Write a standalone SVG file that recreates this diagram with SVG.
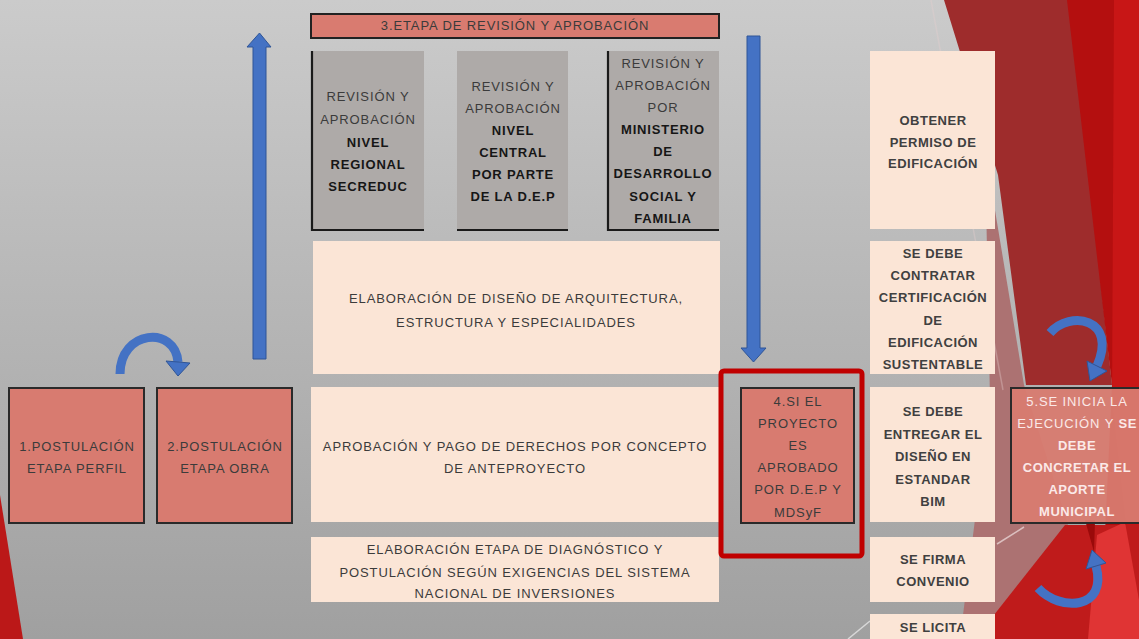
<svg xmlns="http://www.w3.org/2000/svg" width="1139" height="639" viewBox="0 0 1139 639">
<style>
text{font-family:"Liberation Sans",Arial,sans-serif;font-size:13px;text-anchor:middle;letter-spacing:0.9px;fill:#3b3b3b}
.b{font-weight:bold;fill:#161616;letter-spacing:0.8px}
.rb{font-weight:bold;fill:#404040;letter-spacing:0.5px}
.w{fill:#fbe9e8}
.wb{fill:#fbe9e8;font-weight:bold;letter-spacing:0.5px}
.salmon{fill:#d87b70;stroke:#2a2a2a;stroke-width:2}
.peach{fill:#fbe5d6}
.gray{fill:#aeaaa8}
.edge{stroke:#1a1a1a;stroke-width:2.2;fill:none}
.blue{fill:#4472c4;stroke:#2f5597;stroke-width:1}
.bluel{fill:none;stroke:#4472c4;stroke-width:9}
</style>
<defs>
<linearGradient id="bg" x1="0" y1="0" x2="0" y2="1">
<stop offset="0" stop-color="#cbcbcb"/>
<stop offset="1" stop-color="#a0a0a0"/>
</linearGradient>
</defs>

<!-- background -->
<rect x="0" y="0" width="1139" height="639" fill="url(#bg)"/>
<polygon points="985,150 1024,385 1068,525 980,639 960,639 990,400" fill="#ac7272"/>
<polygon points="944,0 1070,0 1112,385 1026,385 998,175" fill="#9e2c2c"/>
<polygon points="1067,0 1139,0 1139,639 1100,639 1112,385" fill="#b40f0f"/>
<polygon points="1114,0 1139,0 1139,639 1112,400" fill="#c81616"/>
<polygon points="1065,525 1139,525 1139,639 975,639" fill="#bf1b1b"/>
<polygon points="1097,535 1125,522 1139,600 1139,639 1088,639" fill="#e03434"/>
<polygon points="1085,520 1095,520 1094,552" fill="#9a0a0a"/>
<line x1="931" y1="0" x2="1003" y2="390" stroke="#e8d0d0" stroke-width="1.5" opacity="0.35"/>
<line x1="997" y1="544" x2="1024" y2="527" stroke="#f0e0e0" stroke-width="1.5" opacity="0.7"/>
<line x1="848" y1="639" x2="870" y2="621" stroke="#f0f0f0" stroke-width="1.5" opacity="0.7"/>
<polygon points="0,495 23,639 0,639" fill="#bb1818"/>

<g id="connectors">
<polygon id="arrow-up" class="blue" points="253,359 266,359 266,47 271,47 259.5,33 247,47 253,47"/>
<polygon id="arrow-down" class="blue" points="747,36 760,36 760,348 766,348 753.5,362 741,348 747,348"/>
<g id="arrow-curve-1">
<path class="bluel" d="M120,374 C120,330 175,325 178,362"/>
<polygon class="blue" points="166,361 190,363 178,376"/>
</g>
<g id="arrow-curve-2">
<path class="bluel" d="M1050,333 C1070,310 1118,318 1097,366"/>
<polygon class="blue" points="1107,371 1087,361 1090,381"/>
</g>
<g id="arrow-curve-3">
<path class="bluel" d="M1038,588 C1060,612 1108,610 1096,566"/>
<polygon class="blue" points="1106,563 1086,569 1092,550"/>
</g>
</g>

<g id="title">
<rect x="311" y="14" width="408" height="24" fill="#d97b70" stroke="#222" stroke-width="2"/>
<text x="515" y="30" fill="#333">3.ETAPA DE REVISIÓN Y APROBACIÓN</text>
</g>

<g id="rev-regional">
<rect class="gray" x="311" y="51" width="113" height="179"/>
<polyline class="edge" points="312,51 312,230 424,230"/>
<text x="368" y="101">REVISIÓN Y</text>
<text x="368" y="124">APROBACIÓN</text>
<text class="b" x="368" y="147">NIVEL</text>
<text class="b" x="368" y="169">REGIONAL</text>
<text class="b" x="368" y="191">SECREDUC</text>
</g>

<g id="rev-central">
<rect class="gray" x="457" y="51" width="111" height="179"/>
<polyline class="edge" points="457,230 568,230"/>
<text x="513" y="91">REVISIÓN Y</text>
<text x="513" y="113">APROBACIÓN</text>
<text class="b" x="513" y="135">NIVEL</text>
<text class="b" x="513" y="157">CENTRAL</text>
<text class="b" x="513" y="179">POR PARTE</text>
<text class="b" x="513" y="201">DE LA D.E.P</text>
</g>

<g id="rev-ministerio">
<rect class="gray" x="607" y="51" width="112" height="179"/>
<polyline class="edge" points="608,51 608,230 719,230"/>
<text x="663" y="68">REVISIÓN Y</text>
<text x="663" y="90">APROBACIÓN</text>
<text x="663" y="112">POR</text>
<text class="b" x="663" y="134">MINISTERIO</text>
<text class="b" x="663" y="156">DE</text>
<text class="b" x="663" y="178">DESARROLLO</text>
<text class="b" x="663" y="201">SOCIAL Y</text>
<text class="b" x="663" y="223">FAMILIA</text>
</g>

<g id="diseno">
<rect class="peach" x="313" y="241" width="407" height="133"/>
<text x="516" y="303">ELABORACIÓN DE DISEÑO DE ARQUITECTURA,</text>
<text x="516" y="327">ESTRUCTURA Y ESPECIALIDADES</text>
</g>

<g id="anteproyecto">
<rect class="peach" x="311" y="387" width="409" height="135"/>
<text x="515" y="451">APROBACIÓN Y PAGO DE DERECHOS POR CONCEPTO</text>
<text x="515" y="473">DE ANTEPROYECTO</text>
</g>

<g id="diagnostico">
<rect class="peach" x="311" y="537" width="408" height="65"/>
<text x="515" y="554">ELABORACIÓN ETAPA DE DIAGNÓSTICO Y</text>
<text x="515" y="577">POSTULACIÓN SEGÚN EXIGENCIAS DEL SISTEMA</text>
<text x="515" y="598">NACIONAL DE INVERSIONES</text>
</g>

<g id="postulacion-perfil">
<rect class="salmon" x="9" y="388" width="135" height="135"/>
<text x="77" y="451">1.POSTULACIÓN</text>
<text x="77" y="473">ETAPA PERFIL</text>
</g>

<g id="postulacion-obra">
<rect class="salmon" x="157" y="388" width="135" height="135"/>
<text x="225" y="451">2.POSTULACIÓN</text>
<text x="225" y="473">ETAPA OBRA</text>
</g>

<g id="aprobado">
<rect x="721" y="371" width="141" height="185" rx="3" fill="none" stroke="#c00000" stroke-width="5"/>
<rect class="salmon" x="741" y="388" width="113" height="135"/>
<text x="798" y="406">4.SI EL</text>
<text x="798" y="428">PROYECTO</text>
<text x="798" y="450">ES</text>
<text x="798" y="472">APROBADO</text>
<text x="798" y="494">POR D.E.P Y</text>
<text x="798" y="517">MDSyF</text>
</g>

<g id="permiso">
<rect class="peach" x="870" y="51" width="125" height="178"/>
<text class="rb" x="933" y="125">OBTENER</text>
<text class="rb" x="933" y="147">PERMISO DE</text>
<text class="rb" x="933" y="168">EDIFICACIÓN</text>
</g>

<g id="certificacion">
<rect class="peach" x="870" y="241" width="125" height="133"/>
<text class="rb" x="933" y="258">SE DEBE</text>
<text class="rb" x="933" y="280">CONTRATAR</text>
<text class="rb" x="933" y="302">CERTIFICACIÓN</text>
<text class="rb" x="933" y="325">DE</text>
<text class="rb" x="933" y="347">EDIFICACIÓN</text>
<text class="rb" x="933" y="369">SUSTENTABLE</text>
</g>

<g id="bim">
<rect class="peach" x="870" y="387" width="125" height="135"/>
<text class="rb" x="933" y="416">SE DEBE</text>
<text class="rb" x="933" y="439">ENTREGAR EL</text>
<text class="rb" x="933" y="461">DISEÑO EN</text>
<text class="rb" x="933" y="484">ESTANDAR</text>
<text class="rb" x="933" y="506">BIM</text>
</g>

<g id="convenio">
<rect class="peach" x="870" y="537" width="125" height="65"/>
<text class="rb" x="933" y="564">SE FIRMA</text>
<text class="rb" x="933" y="586">CONVENIO</text>
</g>

<g id="licita">
<rect class="peach" x="870" y="614" width="125" height="30"/>
<text class="rb" x="933" y="632">SE LICITA</text>
</g>

<g id="ejecucion">
<rect class="salmon" x="1011" y="388" width="132" height="135" fill-opacity="0.95"/>
<text class="w" x="1077" y="406">5.SE INICIA LA</text>
<text class="w" x="1077" y="428">EJECUCIÓN Y <tspan class="wb">SE</tspan></text>
<text class="wb" x="1077" y="450">DEBE</text>
<text class="wb" x="1077" y="472">CONCRETAR EL</text>
<text class="wb" x="1077" y="494">APORTE</text>
<text class="wb" x="1077" y="516">MUNICIPAL</text>
</g>
</svg>
